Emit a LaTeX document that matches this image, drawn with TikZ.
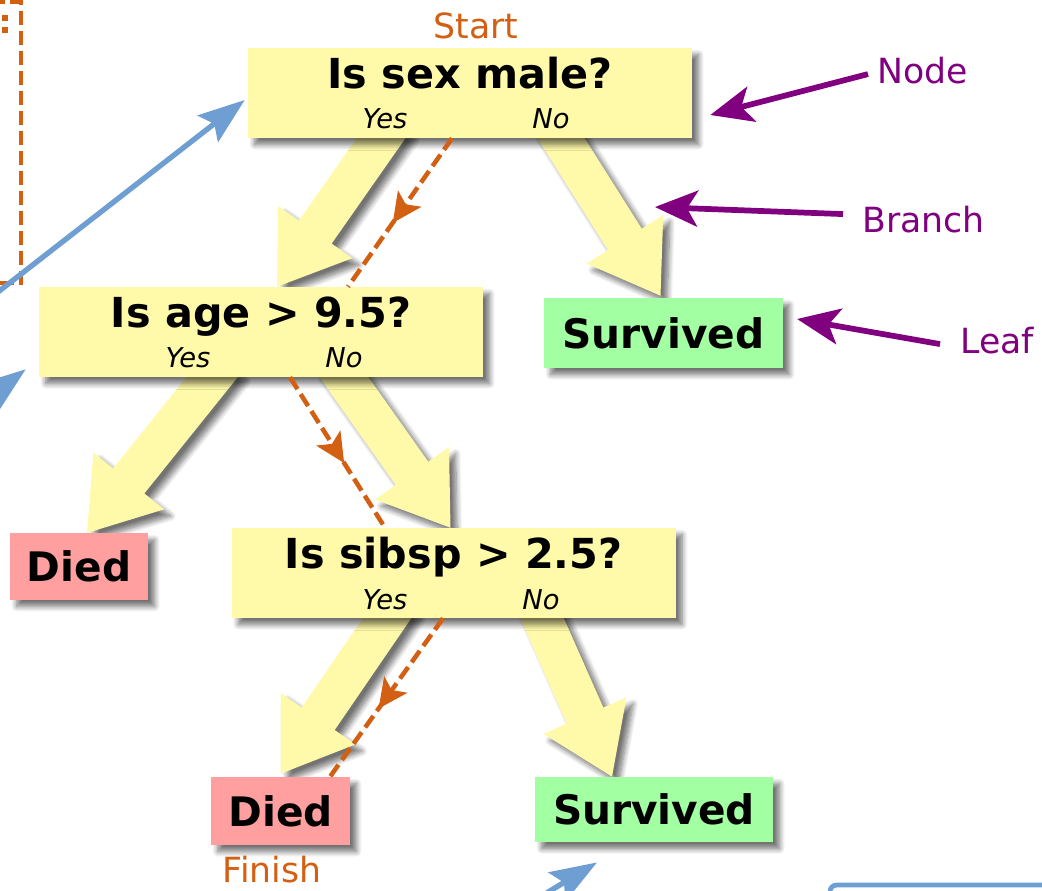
\documentclass[tikz,border=0pt]{standalone}
\usepackage{fontspec}
\setmainfont{DejaVu Sans}
\usetikzlibrary{arrows.meta, calc, positioning, backgrounds, decorations.markings, shadows.blur}

\definecolor{boxyellow}{HTML}{FFFAAA}
\definecolor{leafgreen}{HTML}{A2FFA2}
\definecolor{leafpink}{HTML}{FF9F9F}
\definecolor{walkorange}{HTML}{D35F12}
\definecolor{notepurple}{HTML}{800080}
\definecolor{linkblue}{HTML}{6F9FD2}

\tikzset{
    softshadow/.style={blur shadow={shadow xshift=5pt, shadow yshift=-5pt,
        shadow blur radius=4pt, shadow blur steps=8, shadow opacity=55}},
    ask/.style={rectangle, fill=boxyellow, softshadow, minimum width=333pt,
        inner sep=0pt, text height=30pt, text depth=37.5pt,
        font=\fontsize{31}{36}\selectfont\bfseries},
    ans/.style={anchor=base, inner sep=0pt, font=\fontsize{20.5}{24}\selectfont\itshape},
    leaf/.style={rectangle, softshadow, inner sep=0pt,
        font=\fontsize{30.5}{36}\selectfont\bfseries},
    walk/.style={walkorange, line width=3.4pt, dash pattern=on 10.5pt off 4.5pt,
        postaction={decorate}, decoration={markings, mark=at position .57 with
        {\arrow{Stealth[length=22pt, width=21pt, inset=5pt]}}}},
    note/.style={notepurple, inner sep=0pt, font=\fontsize{26}{30}\selectfont},
    notearrow/.style={notepurple, line width=4.3pt, -{Stealth[length=32pt, width=27pt, inset=8pt]}},
    linkarrow/.style={linkblue, line width=4pt, -{Stealth[length=35pt, width=25pt, inset=6pt]}},
    ends/.style={walkorange, inner sep=0pt, font=\fontsize{26}{30}\selectfont},
}

% ramo: freccia larga da #1 a #2
\newcommand{\branch}[2]{%
    \coordinate (hs) at ($(#1)!-15pt!(#2)$);
    \coordinate (hb) at ($(#2)!50pt!(#1)$);
    \fill[boxyellow, softshadow] ($(hs)!15pt!90:(#2)$) -- ($(hb)!15pt!90:(#2)$)
        -- ($(hb)!34pt!90:(#2)$) -- (#2) -- ($(hb)!34pt!-90:(#2)$)
        -- ($(hb)!15pt!-90:(#2)$) -- ($(hs)!15pt!-90:(#2)$) -- cycle;
}

\begin{document}
\begin{tikzpicture}[x=0.75pt, y=-0.75pt]
    \useasboundingbox (0,0) rectangle (1042,890);
    \clip (0,0) rectangle (1042,890);

    % Nodi
    \node[ask] (sex) at (470,93) {Is sex male?};
    \node[ask] (age) at (261,332) {Is age > 9.5?};
    \node[ask] (sib) at (453.5,573) {Is sibsp > 2.5?};
    \node[leaf, fill=leafgreen, minimum width=179pt, minimum height=52.5pt] (surv1) at (663.5,333) {Survived};
    \node[leaf, fill=leafpink, minimum width=103.5pt, minimum height=50pt] (died1) at (79,566.5) {Died};
    \node[leaf, fill=leafpink, minimum width=104pt, minimum height=51pt] (died2) at (280.5,811) {Died};
    \node[leaf, fill=leafgreen, minimum width=178.5pt, minimum height=49pt] (surv2) at (654,809.5) {Survived};

    \node[ans] (sexyes) at ($(sex.south)+(-85,-10)$) {Yes};
    \node[ans] (sexno) at ($(sex.south)+(81,-10)$) {No};
    \node[ans] (ageyes) at ($(age.south)+(-73,-10)$) {Yes};
    \node[ans] (ageno) at ($(age.south)+(83,-10)$) {No};
    \node[ans] (sibyes) at ($(sib.south)+(-68.5,-9)$) {Yes};
    \node[ans] (sibno) at ($(sib.south)+(87.5,-9)$) {No};

    % Rami
    \begin{scope}[on background layer]
        \coordinate (r1a) at ($(sex.south)+(-89,0)$);
        \coordinate (r1b) at ($(age.north)+(16,0)$);
        \coordinate (r2a) at ($(sex.south)+(91,0)$);
        \coordinate (r2b) at ($(surv1.north)+(-3,-2)$);
        \coordinate (r3a) at ($(age.south)+(-49,0)$);
        \coordinate (r3b) at ($(died1.north)+(8,0)$);
        \coordinate (r4a) at ($(age.south)+(83,0)$);
        \coordinate (r4b) at ($(sib.north)+(-3,0)$);
        \coordinate (r5a) at ($(sib.south)+(-66.5,0)$);
        \coordinate (r5b) at ($(died2.north)+(0,-3)$);
        \coordinate (r6a) at ($(sib.south)+(88.5,0)$);
        \coordinate (r6b) at ($(surv2.north)+(-42,0)$);
        \branch{r1a}{r1b}
        \branch{r2a}{r2b}
        \branch{r3a}{r3b}
        \branch{r4a}{r4b}
        \branch{r5a}{r5b}
        \branch{r6a}{r6b}
    \end{scope}

    % Percorso
    \draw[walk] ($(sex.south)+(-18,0)$) -- ($(age.north)+(87,0)$);
    \draw[walk] ($(age.south)+(29,0)$) -- ($(sib.north)+(-68.5,0)$);
    \draw[walk] ($(sib.south)+(-10.5,0)$) -- ($(died2.north)+(49.5,0)$);
    \node[ends, anchor=base] (start) at (476,38) {Start};
    \node[ends, anchor=base] (finish) at (272,882) {Finish};

    % Etichette
    \node[note, anchor=base west] (nodelbl) at (877,83) {Node};
    \node[note, anchor=base west] (branchlbl) at (862,232) {Branch};
    \node[note, anchor=base west] (leaflbl) at (960,353) {Leaf};
    \coordinate (branchpt) at (655,207);
    \draw[notearrow] ($(nodelbl.west)+(-9,4)$) -- ($(sex.east)+(18,22)$);
    \draw[notearrow] ($(branchlbl.west)+(-19,-5)$) -- (branchpt);
    \draw[notearrow] ($(leaflbl.west)+(-20,4)$) -- ($(surv1.east)+(14,-14)$);

    % Bordi tagliati
    \draw[walkorange, line width=3pt, dash pattern=on 11pt off 4pt] (-10,1.5) -- (21,1.5) -- (21,283) -- (-10,283);
    \fill[walkorange] (2,15) rectangle (8,21);
    \fill[walkorange] (2,27) rectangle (8,33);
    \coordinate (in1) at (-20,306);
    \coordinate (in2) at (-45,423);
    \coordinate (in3) at (540,897);
    \draw[linkarrow] (in1) -- ($(sex.west)+(-3,7)$);
    \draw[linkarrow] (in2) -- ($(age.south west)+(-13,-8)$);
    \draw[linkarrow] (in3) -- ($(surv2.south)+(-57,20)$);
    \draw[linkblue, line width=3.6pt, rounded corners=5pt] (830,885) rectangle (1100,1000);
\end{tikzpicture}
\end{document}
